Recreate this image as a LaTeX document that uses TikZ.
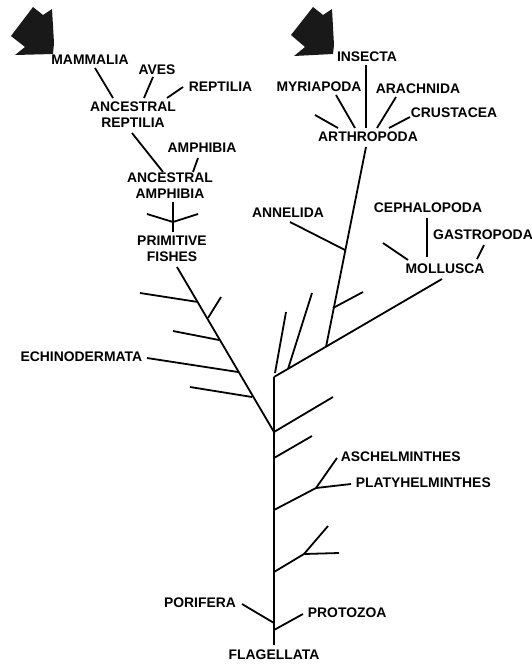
\documentclass[tikz,border=0pt]{standalone}
\usepackage{fontspec}
\setmainfont{Liberation Sans}
\begin{document}
\begin{tikzpicture}[x=1pt,y=-1pt,line width=1.8pt,
  lbl/.style={font=\bfseries\fontsize{13.9}{16}\selectfont,inner sep=0pt,align=center},
  bigarrow/.style={fill=black!90,draw=none}]
\useasboundingbox (0,0) rectangle (532,664);
% arrows
\fill[bigarrow] (11,36) -- (33,7) -- (43,15) -- (52,9) -- (54,43) -- (53,54) -- (15,55) -- (25,47) -- cycle;
\fill[bigarrow] (291,35) -- (313,7) -- (323,15) -- (332,9) -- (334,45) -- (333,54) -- (294,56) -- (305,47) -- cycle;
% labels
\node[lbl] (mam) at (90,60) {MAMMALIA};
\node[lbl] (ave) at (157,70) {AVES};
\node[lbl,anchor=west] (rep) at (188,87) {REPTILIA};
\node[lbl] (arep) at (133,115) {ANCESTRAL\\REPTILIA};
\node[lbl] (amp) at (202,148) {AMPHIBIA};
\node[lbl] (aamp) at (170,186) {ANCESTRAL\\AMPHIBIA};
\node[lbl] (fish) at (172,249) {PRIMITIVE\\FISHES};
\node[lbl,anchor=east] (echi) at (143,357) {ECHINODERMATA};
\node[lbl] (ins) at (367,57) {INSECTA};
\node[lbl] (myr) at (319,87) {MYRIAPODA};
\node[lbl] (ara) at (418,89) {ARACHNIDA};
\node[lbl,anchor=west] (cru) at (410,113) {CRUSTACEA};
\node[lbl] (art) at (368,137) {ARTHROPODA};
\node[lbl] (ann) at (288,213) {ANNELIDA};
\node[lbl] (cep) at (428,208) {CEPHALOPODA};
\node[lbl] (gas) at (483,235) {GASTROPODA};
\node[lbl] (mol) at (445,269) {MOLLUSCA};
\node[lbl,anchor=west] (asc) at (340,457) {ASCHELMINTHES};
\node[lbl,anchor=west] (pla) at (355,483) {PLATYHELMINTHES};
\node[lbl] (por) at (200,603) {PORIFERA};
\node[lbl,anchor=west] (pro) at (307,613) {PROTOZOA};
\node[lbl] (fla) at (274,655) {FLAGELLATA};
% coordinates: trunk
\coordinate (base) at (274,645);
\coordinate (j1) at (274,377);
\coordinate (j2) at (274,432);
\coordinate (j3) at (274,458);
\coordinate (j4) at (274,510);
\coordinate (j5) at (274,572);
\coordinate (jpor) at (274,623);
\coordinate (jpro) at (274,630);
% trunk
\draw (base) -- (j1);
% left diagonal
\coordinate (fishb) at (177,267);
\draw (j2) -- (fishb);
\coordinate (d1) at (198,302); \coordinate (d1e) at (140,293);
\coordinate (d2) at (208,318); \coordinate (d2e) at (221,297);
\coordinate (d3) at (219,340); \coordinate (d3e) at (173,331);
\coordinate (d4) at (238,372); \coordinate (d4e) at (147,358);
\coordinate (d5) at (252,397); \coordinate (d5e) at (190,387);
\draw (d1) -- (d1e);
\draw (d2) -- (d2e);
\draw (d3) -- (d3e);
\draw (d4) -- (d4e);
\draw (d5) -- (d5e);
% primitive fishes cross
\coordinate (pf1) at (173,202); \coordinate (pf2) at (173,232);
\coordinate (pfc) at (173,222); \coordinate (pfl) at (147,214); \coordinate (pfr) at (198,214);
\draw (pf1) -- (pf2);
\draw (pfl) -- (pfc) -- (pfr);
% ancestral amphibia
\coordinate (aa1) at (132,133); \coordinate (aa2) at (163,172);
\draw (aa1) -- (aa2);
\coordinate (am1) at (198,158); \coordinate (am2) at (193,172);
\draw (am1) -- (am2);
% ancestral reptilia
\coordinate (ma1) at (95,68); \coordinate (ma2) at (113,98);
\coordinate (av1) at (153,77); \coordinate (av2) at (144,98);
\coordinate (re1) at (183,87); \coordinate (re2) at (167,98);
\draw (ma1) -- (ma2);
\draw (av1) -- (av2);
\draw (re1) -- (re2);
% mollusca diagonal
\coordinate (molb) at (442,279);
\draw (j1) -- (molb);
\coordinate (u1) at (275,373); \coordinate (u1e) at (286,312);
\coordinate (u2) at (288,369); \coordinate (u2e) at (312,293);
\draw (u1) -- (u1e);
\draw (u2) -- (u2e);
% arthropod line
\coordinate (ar0) at (326,347); \coordinate (arb) at (366,147);
\draw (ar0) -- (arb);
\coordinate (s1) at (333,308); \coordinate (s1e) at (363,292);
\draw (s1) -- (s1e);
\coordinate (an0) at (345,250); \coordinate (ane) at (290,222);
\draw (an0) -- (ane);
% mollusca group
\coordinate (mo1) at (383,243); \coordinate (mo1e) at (408,260);
\draw (mo1) -- (mo1e);
\coordinate (ce1) at (427,218); \coordinate (ce2) at (427,257);
\draw (ce1) -- (ce2);
\coordinate (ga1) at (484,245); \coordinate (ga2) at (477,259);
\draw (ga1) -- (ga2);
% arthropoda group
\coordinate (in1) at (366,65); \coordinate (in2) at (366,128);
\draw (in1) -- (in2);
\coordinate (x1) at (315,115); \coordinate (x1e) at (338,128);
\coordinate (my1) at (336,95); \coordinate (my2) at (355,128);
\coordinate (ac1) at (396,97); \coordinate (ac2) at (377,128);
\coordinate (cr1) at (410,117); \coordinate (cr2) at (389,128);
\draw (x1) -- (x1e);
\draw (my1) -- (my2);
\draw (ac1) -- (ac2);
\draw (cr1) -- (cr2);
% right-of-trunk branches
\coordinate (r1e) at (333,397);
\draw (j2) -- (r1e);
\coordinate (r2e) at (312,436);
\draw (j3) -- (r2e);
\coordinate (f1) at (316,488); \coordinate (f1a) at (337,458); \coordinate (f1b) at (351,484);
\draw (j4) -- (f1);
\draw (f1) -- (f1a);
\draw (f1) -- (f1b);
\coordinate (f2) at (304,554); \coordinate (f2a) at (328,526); \coordinate (f2b) at (339,553);
\draw (j5) -- (f2);
\draw (f2) -- (f2a);
\draw (f2) -- (f2b);
\coordinate (proe) at (303,614);
\draw (jpro) -- (proe);
\coordinate (pore) at (242,604);
\draw (jpor) -- (pore);
\end{tikzpicture}
\end{document}
